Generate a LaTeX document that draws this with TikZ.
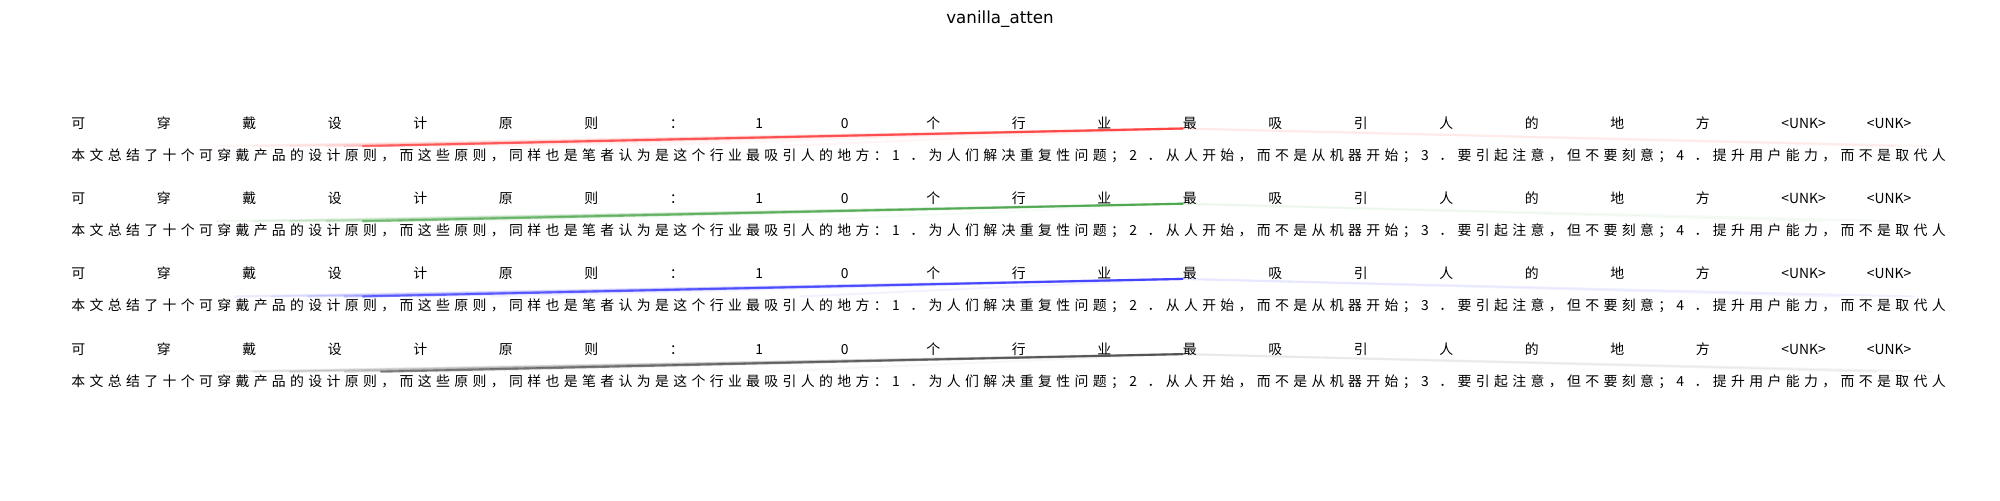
\documentclass[tikz,border=0pt]{standalone}
\usepackage{fontspec}
\setmainfont{DejaVu Sans}
\newfontfamily\cjk{Noto Sans CJK SC}
\usetikzlibrary{positioning}
\definecolor{attred}{rgb}{1,0,0}
\definecolor{attgreen}{rgb}{0,0.5,0}
\definecolor{attblue}{rgb}{0,0,1}
\definecolor{attblack}{rgb}{0,0,0}
\tikzset{
  tok/.style={anchor=base west,inner sep=0pt,text height=0.8em,text depth=0.1em,
    font=\cjk\fontsize{7.9}{9}\selectfont},
  src/.style={tok},
  attn/.style={line width=1.2pt,line cap=round},
  plottitle/.style={inner sep=0pt,font=\fontsize{9.5}{11}\selectfont}
}
\newcommand\toplist{可,穿,戴,设,计,原,则,：,1,0,个,行,业,最,吸,引,人,的,地,方,<UNK>,<UNK>}
\newcommand\srclist{本,文,总,结,了,十,个,可,穿,戴,产,品,的,设,计,原,则,，,而,这,些,原,则,，,同,样,也,是,笔,者,认,为,是,这,个,行,业,最,吸,引,人,的,地,方,：,1,．,为,人,们,解,决,重,复,性,问,题,；,2,．,从,人,开,始,，,而,不,是,从,机,器,开,始,；,3,．,要,引,起,注,意,，,但,不,要,刻,意,；,4,．,提,升,用,户,能,力,，,而,不,是,取,代,人}

\begin{document}
\begin{tikzpicture}[x=0.02cm,y=-0.02cm]
  \useasboundingbox (0,0) rectangle (2000,500);
  \node[plottitle] (ttl) at (1000,19) {vanilla\_atten};
  % four rows: target tokens above, source characters below
  \foreach \r in {0,1,2,3}{
    \foreach \w [count=\i from 0] in \toplist
      \node[tok] (t\r-\i) at ({71+85.5*\i},{128.5+75.2*\r}) {\w};
    \foreach \w [count=\j from 0] in \srclist
      \node[src] (s\r-\j) at ({71+18.24*\j},{160.5+75.2*\r}) {\w};
  }
  % attention of the token 最
  \foreach \j/\a in {16/0.5,17/0.12,15/0.12,14/0.08,12/0.06,10/0.05,8/0.04,20/0.05,24/0.04,30/0.03,39/0.04,100/0.05,102/0.04}
    \draw[attn,draw=attred,draw opacity=\a] (t0-13.base west) -- (s0-\j.north west);
  \foreach \j/\a in {16/0.45,14/0.15,12/0.12,10/0.08,8/0.06,18/0.06,21/0.04,39/0.03,100/0.04,96/0.03}
    \draw[attn,draw=attgreen,draw opacity=\a] (t1-13.base west) -- (s1-\j.north west);
  \foreach \j/\a in {16/0.5,15/0.2,13/0.12,11/0.08,9/0.08,19/0.06,23/0.04,40/0.05,101/0.06,97/0.04}
    \draw[attn,draw=attblue,draw opacity=\a] (t2-13.base west) -- (s2-\j.north west);
  \foreach \j/\a in {17/0.45,15/0.15,12/0.12,10/0.08,8/0.06,20/0.05,38/0.03,99/0.05,102/0.04}
    \draw[attn,draw=attblack,draw opacity=\a] (t3-13.base west) -- (s3-\j.north west);
\end{tikzpicture}
\end{document}
